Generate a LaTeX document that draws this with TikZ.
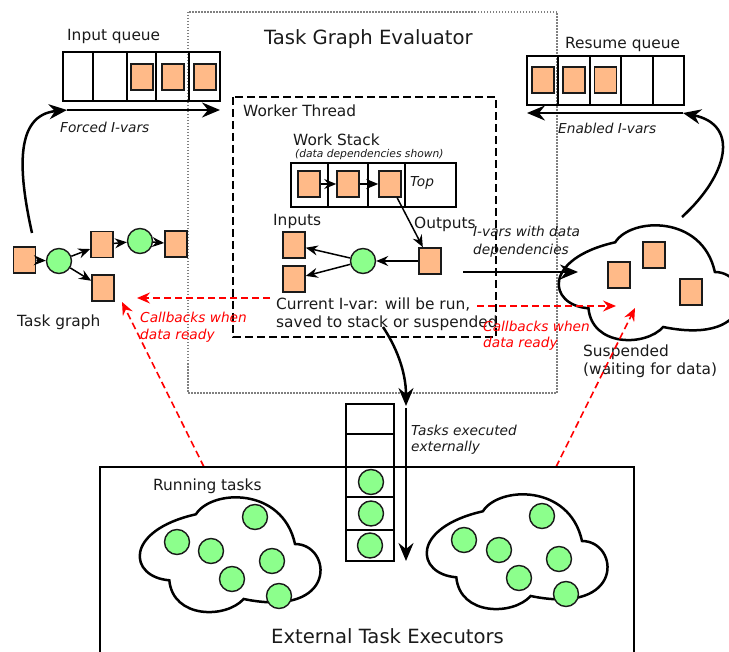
\documentclass[tikz,border=0pt]{standalone}
\usepackage{fontspec}
\setmainfont{DejaVu Sans}
\usetikzlibrary{arrows.meta}
\definecolor{peach}{HTML}{FFBA88}
\definecolor{mint}{HTML}{8CFF8C}
\definecolor{ink}{HTML}{1A1A1A}
\begin{document}
\begin{tikzpicture}[x=1pt,y=-1pt,
  ivar/.style={draw=ink, line width=1.6pt, fill=peach, minimum width=22pt, minimum height=26pt, inner sep=0pt},
  task/.style={circle, draw=ink, line width=1.4pt, fill=mint, minimum size=25pt, inner sep=0pt},
  cell/.style={draw, line width=1.2pt},
  title/.style={anchor=base west, inner sep=0pt, text=ink, font=\fontsize{19.6}{23}\selectfont},
  lbl/.style={anchor=base west, inner sep=0pt, text=ink, font=\fontsize{15.4}{18}\selectfont},
  ilbl/.style={anchor=base west, inner sep=0pt, text=ink, font=\fontsize{13.7}{17}\selectfont\itshape},
  tinylbl/.style={anchor=base west, inner sep=0pt, text=ink, font=\fontsize{10.7}{13}\selectfont\itshape},
  rlbl/.style={ilbl, text=red},
  bigarrow/.style={line width=2.5pt, -{Stealth[length=18pt,width=15pt,inset=6pt]}},
  smallarrow/.style={line width=1.5pt, -{Stealth[length=12pt,width=10pt,inset=4pt]}},
  callback/.style={red, line width=1.6pt, dash pattern=on 7pt off 4pt, -{Stealth[length=13pt,width=11pt,inset=4.5pt]}},
  cloudline/.style={line width=2.5pt, fill=white},
  cloudpath/.pic={
    \draw[cloudline] (16,73) .. controls (-7,70) and (-10,28) .. (31,13)
      .. controls (40,-10) and (80,-12) .. (87,40)
      .. controls (108,40) and (112,108) .. (58,90)
      .. controls (48,108) and (18,108) .. cycle;
  },
]
\useasboundingbox (0,0) rectangle (729,652);

% ---------- evaluator frame ----------
\draw[gray, line width=1.5pt, dash pattern=on 1.5pt off 1.5pt] (188,12) rectangle (557,393);
\node[title] (evaltitle) at (264,45) {Task Graph Evaluator};

% ---------- input queue ----------
\node[lbl] (iqlabel) at (67,41) {Input queue};
\draw[cell] (63,52) rectangle (220,101);
\foreach \x in {93,127,156,189} \draw[cell] (\x,52) -- (\x,101);
\node[ivar] (iq1) at (142,77) {};
\node[ivar] (iq2) at (173,77) {};
\node[ivar] (iq3) at (205,77) {};
\coordinate (iqS) at (67,110);
\coordinate (iqE) at (220,110);
\draw[bigarrow] (iqS) -- (iqE);
\node[ilbl] (forced) at (60,133) {Forced I-vars};

% ---------- resume queue ----------
\node[lbl] (rqlabel) at (565,49) {Resume queue};
\draw[cell] (527,56) rectangle (684,105);
\foreach \x in {558,590,621,653} \draw[cell] (\x,56) -- (\x,105);
\node[ivar] (rq1) at (543,80) {};
\node[ivar] (rq2) at (574,80) {};
\node[ivar] (rq3) at (605.5,80) {};
\coordinate (rqS) at (683,113);
\coordinate (rqE) at (527,113);
\draw[bigarrow] (rqS) -- (rqE);
\node[ilbl] (enabled) at (558,134) {Enabled I-vars};

% ---------- worker thread ----------
\draw[line width=2pt, dash pattern=on 8pt off 4pt] (233,97) rectangle (496,337);
\node[lbl] (wtlabel) at (243,117) {Worker Thread};
\node[lbl] (wslabel) at (293,146) {Work Stack};
\node[tinylbl] (wsnote) at (295,158) {(data dependencies shown)};
\draw[cell] (291,163) rectangle (456,207);
\foreach \x in {328,368,405} \draw[cell] (\x,163) -- (\x,207);
\node[ivar] (ws1) at (309,184) {};
\node[ivar] (ws2) at (348,184) {};
\node[ivar] (ws3) at (390,184) {};
\node[ilbl] (toplbl) at (410,187) {Top};
\draw[smallarrow] (ws1) -- (ws2);
\draw[smallarrow] (ws2) -- (ws3);

\node[lbl] (inlabel) at (273,226) {Inputs};
\node[lbl] (outlabel) at (414,229) {Outputs};
\node[ivar] (out) at (430,261) {};
\node[task] (cur) at (363,261) {};
\node[ivar] (in1) at (294,245) {};
\node[ivar] (in2) at (294,279) {};
\draw[smallarrow] (ws3) -- (out);
\draw[smallarrow] (out) -- (cur);
\draw[smallarrow] (cur) -- (in1);
\draw[smallarrow] (cur) -- (in2);
\node[lbl] (curA) at (276,310) {Current I-var: will be run,};
\node[lbl] (curB) at (276,328) {saved to stack or suspended};

% ---------- task graph ----------
\node[ivar] (t1) at (24.5,260) {};
\node[task] (c1) at (59,261) {};
\node[ivar] (t2) at (102,244.5) {};
\node[task] (c2) at (140,241) {};
\node[ivar] (t3) at (176,244) {};
\node[ivar] (t4) at (103,288) {};
\draw[smallarrow] (t1) -- (c1);
\draw[smallarrow] (c1) -- (t2);
\draw[smallarrow] (c1) -- (t4);
\draw[smallarrow] (t2) -- (c2);
\draw[smallarrow] (c2) -- (t3);
\node[lbl] (tglabel) at (17,327) {Task graph};
\coordinate (tgS) at (32,233);
\draw[bigarrow] (tgS) .. controls (18,170) and (15,115) .. (iqS);

% ---------- suspended ----------
\pic[xscale=1.78, yscale=1.1] at (560,228) {cloudpath};
\node[ivar] (s1) at (619,275) {};
\node[ivar] (s2) at (654,255) {};
\node[ivar] (s3) at (691,292) {};
\node[lbl] (suspA) at (583,357) {Suspended};
\node[lbl] (suspB) at (583,375) {(waiting for data)};
\coordinate (suspOut) at (682,217);
\draw[bigarrow] (suspOut) .. controls (728,175) and (740,125) .. (rqS);
\coordinate (depS) at (463,272);
\coordinate (depE) at (578,272);
\draw[bigarrow] (depS) -- (depE);
\node[ilbl] (depA) at (473,237) {I-vars with data};
\node[ilbl] (depB) at (473,255) {dependencies};

% ---------- callbacks ----------
\coordinate (cbLs) at (270,298);
\coordinate (cbLe) at (137,298);
\draw[callback] (cbLs) -- (cbLe);
\coordinate (cbLd) at (204,467);
\coordinate (cbLt) at (122,302);
\draw[callback] (cbLd) -- (cbLt);
\node[rlbl] (cbLA) at (140,323) {Callbacks when};
\node[rlbl] (cbLB) at (140,340) {data ready};
\coordinate (cbRs) at (477,306);
\coordinate (cbRe) at (616,306);
\draw[callback] (cbRs) -- (cbRe);
\coordinate (cbRd) at (556,467);
\coordinate (cbRt) at (635,308);
\draw[callback] (cbRd) -- (cbRt);
\node[rlbl] (cbRA) at (483,332) {Callbacks when};
\node[rlbl] (cbRB) at (483,348) {data ready};

% ---------- external executors ----------
\draw[line width=2.2pt] (100,655) -- (100,467) -- (634,467) -- (634,655);
\node[title] (exttitle) at (271,643) {External Task Executors};
\node[lbl] (runlabel) at (153,491) {Running tasks};

\draw[cell] (346,404) rectangle (394,561);
\foreach \y in {434,467,497,530} \draw[cell] (346,\y) -- (394,\y);
\node[task] (e1) at (371,482) {};
\node[task] (e2) at (371,513.5) {};
\node[task] (e3) at (370,545.5) {};

\coordinate (curS) at (383,327);
\coordinate (stackIn) at (406,406);
\draw[bigarrow] (curS) .. controls (395,345) and (406,370) .. (stackIn);
\coordinate (execS) at (406,408);
\coordinate (execE) at (406,561);
\draw[bigarrow] (execS) -- (execE);
\node[ilbl] (execA) at (411,436) {Tasks executed};
\node[ilbl] (execB) at (411,452) {externally};

\pic[xscale=1.77, yscale=1.1] at (141,500) {cloudpath};
\node[task] (r1) at (177,542) {};
\node[task] (r2) at (211,551) {};
\node[task] (r3) at (255,517) {};
\node[task] (r4) at (272,561) {};
\node[task] (r5) at (232,579) {};
\node[task] (r6) at (279,596) {};

\pic[xscale=1.77, yscale=1.1] at (428,497) {cloudpath};
\node[task] (x1) at (464,540) {};
\node[task] (x2) at (499,550) {};
\node[task] (x3) at (542,516) {};
\node[task] (x4) at (559,559) {};
\node[task] (x5) at (519,578) {};
\node[task] (x6) at (566,594) {};
\end{tikzpicture}
\end{document}
